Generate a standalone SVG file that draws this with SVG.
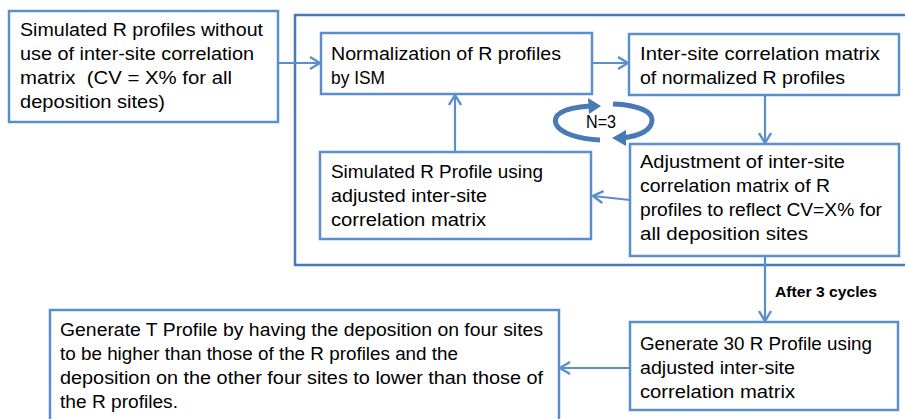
<svg xmlns="http://www.w3.org/2000/svg" width="905" height="419" viewBox="0 0 905 419">
<defs>
<style>
.box{fill:#fff;stroke:#5b8fcb;stroke-width:2.5}
.frame{fill:none;stroke:#4a7ab5;stroke-width:2.5}
.t{font-family:"Liberation Sans",Arial,sans-serif;font-size:17.5px;fill:#000}
.b{font-family:"Liberation Sans",Arial,sans-serif;font-size:14.5px;font-weight:bold;fill:#000}
.c{fill:none;stroke:#5b8fcb;stroke-width:2.2}
</style>
<marker id="ah" viewBox="0 0 12 14" refX="11" refY="7" markerWidth="12" markerHeight="14" markerUnits="userSpaceOnUse" orient="auto">
<path d="M1,1 L11,7 L1,13" fill="none" stroke="#5b8fcb" stroke-width="2.4"/>
</marker>
</defs>
<rect width="905" height="419" fill="#fff"/>
<path class="frame" d="M910,15 H295 V265 H910"/>
<g id="n1"><rect class="box" x="9" y="11" width="269" height="111"/>
<text class="t" x="20" y="36" textLength="243" lengthAdjust="spacingAndGlyphs">Simulated R profiles without</text>
<text class="t" x="20" y="60" textLength="234" lengthAdjust="spacingAndGlyphs">use of inter-site correlation</text>
<text class="t" x="20" y="84" textLength="212" lengthAdjust="spacingAndGlyphs" xml:space="preserve">matrix  (CV = X% for all</text>
<text class="t" x="20" y="108" textLength="145" lengthAdjust="spacingAndGlyphs">deposition sites)</text></g>
<g id="n2"><rect class="box" x="321" y="33" width="271" height="61"/>
<text class="t" x="331" y="60" textLength="230" lengthAdjust="spacingAndGlyphs">Normalization of R profiles</text>
<text class="t" x="331" y="84" textLength="54" lengthAdjust="spacingAndGlyphs">by ISM</text></g>
<g id="n3"><rect class="box" x="629" y="34" width="270" height="61"/>
<text class="t" x="640" y="60" textLength="240" lengthAdjust="spacingAndGlyphs">Inter-site correlation matrix</text>
<text class="t" x="640" y="84" textLength="205" lengthAdjust="spacingAndGlyphs">of normalized R profiles</text></g>
<g id="n4"><rect class="box" x="630" y="144" width="269" height="112"/>
<text class="t" x="640" y="168" textLength="205" lengthAdjust="spacingAndGlyphs">Adjustment of inter-site</text>
<text class="t" x="640" y="192" textLength="190" lengthAdjust="spacingAndGlyphs">correlation matrix of R</text>
<text class="t" x="640" y="216" textLength="242" lengthAdjust="spacingAndGlyphs">profiles to reflect CV=X% for</text>
<text class="t" x="640" y="240" textLength="168" lengthAdjust="spacingAndGlyphs">all deposition sites</text></g>
<g id="n5"><rect class="box" x="320" y="152" width="271" height="87"/>
<text class="t" x="331" y="178" textLength="212" lengthAdjust="spacingAndGlyphs">Simulated R Profile using</text>
<text class="t" x="331" y="202" textLength="156" lengthAdjust="spacingAndGlyphs">adjusted inter-site</text>
<text class="t" x="331" y="226" textLength="155" lengthAdjust="spacingAndGlyphs">correlation matrix</text></g>
<g id="n6"><rect class="box" x="630" y="322" width="268" height="88"/>
<text class="t" x="640" y="350" textLength="232" lengthAdjust="spacingAndGlyphs">Generate 30 R Profile using</text>
<text class="t" x="640" y="374" textLength="155" lengthAdjust="spacingAndGlyphs">adjusted inter-site</text>
<text class="t" x="640" y="398" textLength="155" lengthAdjust="spacingAndGlyphs">correlation matrix</text></g>
<g id="n7"><rect class="box" x="50" y="310" width="509" height="115"/>
<text class="t" x="60" y="336" textLength="483" lengthAdjust="spacingAndGlyphs">Generate T Profile by having the deposition on four sites</text>
<text class="t" x="60" y="360" textLength="398" lengthAdjust="spacingAndGlyphs">to be higher than those of the R profiles and the</text>
<text class="t" x="60" y="384" textLength="483" lengthAdjust="spacingAndGlyphs">deposition on the other four sites to lower than those of</text>
<text class="t" x="60" y="408" textLength="118" lengthAdjust="spacingAndGlyphs">the R profiles.</text></g>
<g id="loop">
<path d="M590,106 C560,108 553,116 556,124 C560,133 578,139 600,140" fill="none" stroke="#4a7ab5" stroke-width="5"/>
<polygon points="588,98 601,106 589,114" fill="#4a7ab5"/>
<path d="M613,104 C640,105 652,112 652,120 C652,130 640,136 622,138" fill="none" stroke="#4a7ab5" stroke-width="5"/>
<polygon points="626,130 612,138 626,146" fill="#4a7ab5"/>
<text class="t" x="586" y="128" textLength="30" lengthAdjust="spacingAndGlyphs">N=3</text>
</g>
<g id="connectors">
<line class="c" x1="278" y1="63" x2="320" y2="63" marker-end="url(#ah)"/>
<line class="c" x1="592" y1="63" x2="628" y2="63" marker-end="url(#ah)"/>
<line class="c" x1="765" y1="95" x2="765" y2="143" marker-end="url(#ah)"/>
<line class="c" x1="630" y1="200" x2="593" y2="196" marker-end="url(#ah)"/>
<line class="c" x1="455" y1="152" x2="455" y2="95" marker-end="url(#ah)"/>
<line class="c" x1="765" y1="256" x2="765" y2="321" marker-end="url(#ah)"/>
<line class="c" x1="630" y1="368" x2="560" y2="368" marker-end="url(#ah)"/>
<text class="b" x="775" y="297" textLength="102" lengthAdjust="spacingAndGlyphs">After 3 cycles</text>
</g>
</svg>
